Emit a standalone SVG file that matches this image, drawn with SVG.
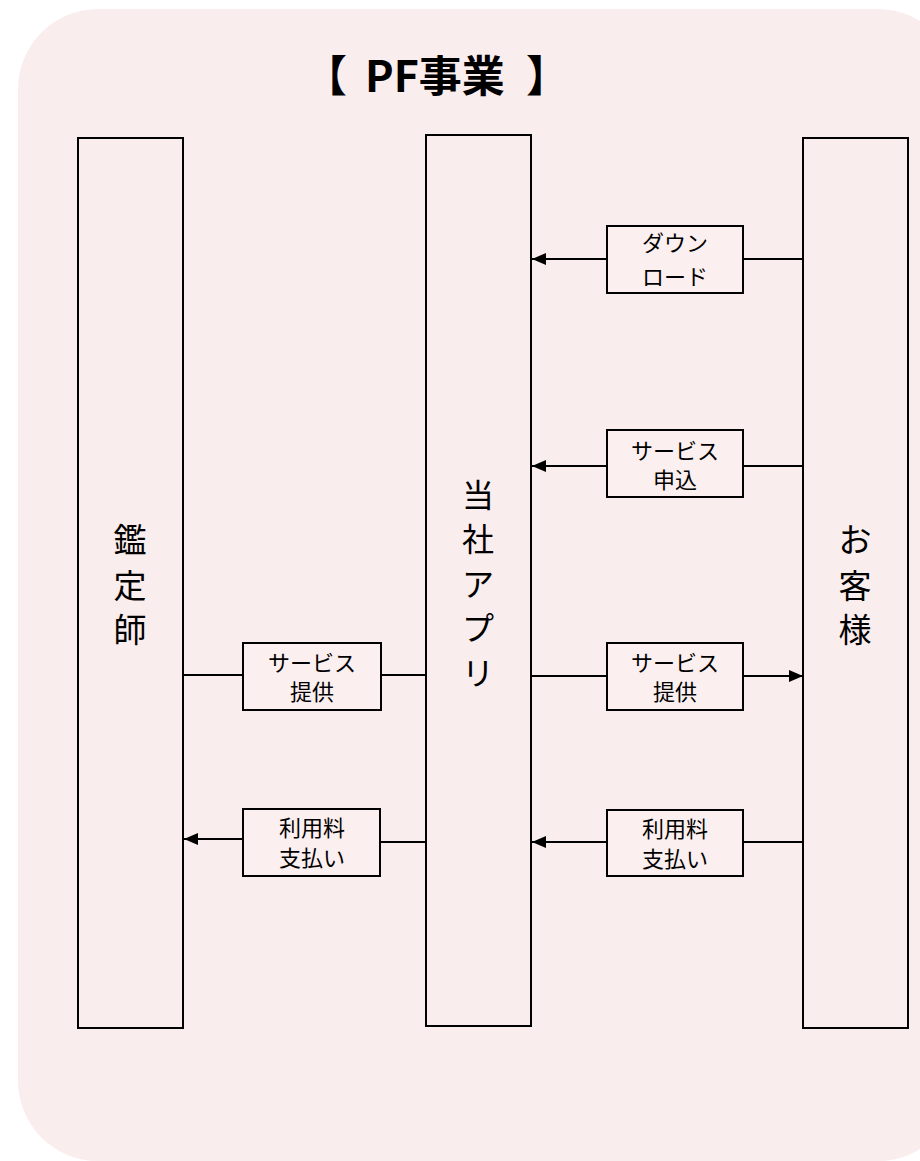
<svg xmlns="http://www.w3.org/2000/svg" width="920" height="1161" viewBox="0 0 920 1161">
<defs>
<marker id="arr" markerWidth="14" markerHeight="12" refX="14" refY="6" orient="auto" markerUnits="userSpaceOnUse">
<path d="M0,0 L14,6 L0,12 Z" fill="#000"/>
</marker>
<style>
.col{fill:none;stroke:#000;stroke-width:2}
.lbl{fill:#FCEFEF;stroke:#000;stroke-width:2}
.t{font-family:"Noto Sans CJK JP","Noto Sans",sans-serif;fill:#000;text-anchor:middle}
.big{font-size:33px}
.mid{font-size:32px}
.sm{font-size:22px}
.ttl{font-family:"Noto Sans CJK JP","Noto Sans",sans-serif;fill:#000;font-size:43px;font-weight:bold}
.ln{stroke:#000;stroke-width:2;fill:none}
</style>
</defs>
<rect x="0" y="0" width="920" height="1161" fill="#fff"/>
<rect x="18" y="9" width="940" height="1152" rx="80" ry="80" fill="#FAEDED"/>
<g id="title">
<text class="ttl" x="304" y="92">【</text>
<text class="ttl" x="365" y="92">PF事業</text>
<text class="ttl" x="526" y="92">】</text>
</g>

<g id="kanteishi">
<rect class="col" x="78" y="138" width="105" height="890"/>
<text class="t big" x="130" y="552">鑑</text>
<text class="t big" x="130" y="598">定</text>
<text class="t big" x="130" y="642">師</text>
</g>
<g id="app">
<rect class="col" x="426" y="135" width="105" height="891"/>
<text class="t mid" x="478" y="507">当</text>
<text class="t mid" x="478" y="551">社</text>
<text class="t mid" x="478" y="596">ア</text>
<text class="t mid" x="478" y="640">プ</text>
<text class="t mid" x="478" y="685">リ</text>
</g>
<g id="customer">
<rect class="col" x="803" y="138" width="105" height="890"/>
<text class="t big" x="855" y="552">お</text>
<text class="t big" x="855" y="598">客</text>
<text class="t big" x="855" y="642">様</text>
</g>

<g id="connectors">
<line class="ln" x1="803" y1="259" x2="743" y2="259"/>
<line class="ln" x1="607" y1="259" x2="532" y2="259" marker-end="url(#arr)"/>
<line class="ln" x1="803" y1="466" x2="743" y2="466"/>
<line class="ln" x1="607" y1="466" x2="532" y2="466" marker-end="url(#arr)"/>
<line class="ln" x1="531" y1="676" x2="607" y2="676"/>
<line class="ln" x1="743" y1="676" x2="803" y2="676" marker-end="url(#arr)"/>
<line class="ln" x1="803" y1="842" x2="743" y2="842"/>
<line class="ln" x1="607" y1="842" x2="532" y2="842" marker-end="url(#arr)"/>
<line class="ln" x1="183" y1="675" x2="243" y2="675"/>
<line class="ln" x1="381" y1="675" x2="426" y2="675"/>
<line class="ln" x1="426" y1="842" x2="381" y2="842"/>
<line class="ln" x1="243" y1="839" x2="184" y2="839" marker-end="url(#arr)"/>
</g>

<g id="lbl-download">
<rect class="lbl" x="607" y="226" width="136" height="67"/>
<text class="t sm" x="675" y="251">ダウン</text>
<text class="t sm" x="675" y="285">ロード</text>
</g>
<g id="lbl-apply">
<rect class="lbl" x="607" y="430" width="136" height="67"/>
<text class="t sm" x="675" y="459">サービス</text>
<text class="t sm" x="675" y="488">申込</text>
</g>
<g id="lbl-provide-r">
<rect class="lbl" x="607" y="643" width="136" height="67"/>
<text class="t sm" x="675" y="671">サービス</text>
<text class="t sm" x="675" y="700">提供</text>
</g>
<g id="lbl-fee-r">
<rect class="lbl" x="607" y="810" width="136" height="66"/>
<text class="t sm" x="675" y="837">利用料</text>
<text class="t sm" x="675" y="867">支払い</text>
</g>
<g id="lbl-provide-l">
<rect class="lbl" x="243" y="643" width="138" height="67"/>
<text class="t sm" x="312" y="671">サービス</text>
<text class="t sm" x="312" y="700">提供</text>
</g>
<g id="lbl-fee-l">
<rect class="lbl" x="243" y="809" width="137" height="67"/>
<text class="t sm" x="312" y="836">利用料</text>
<text class="t sm" x="312" y="866">支払い</text>
</g>
</svg>
